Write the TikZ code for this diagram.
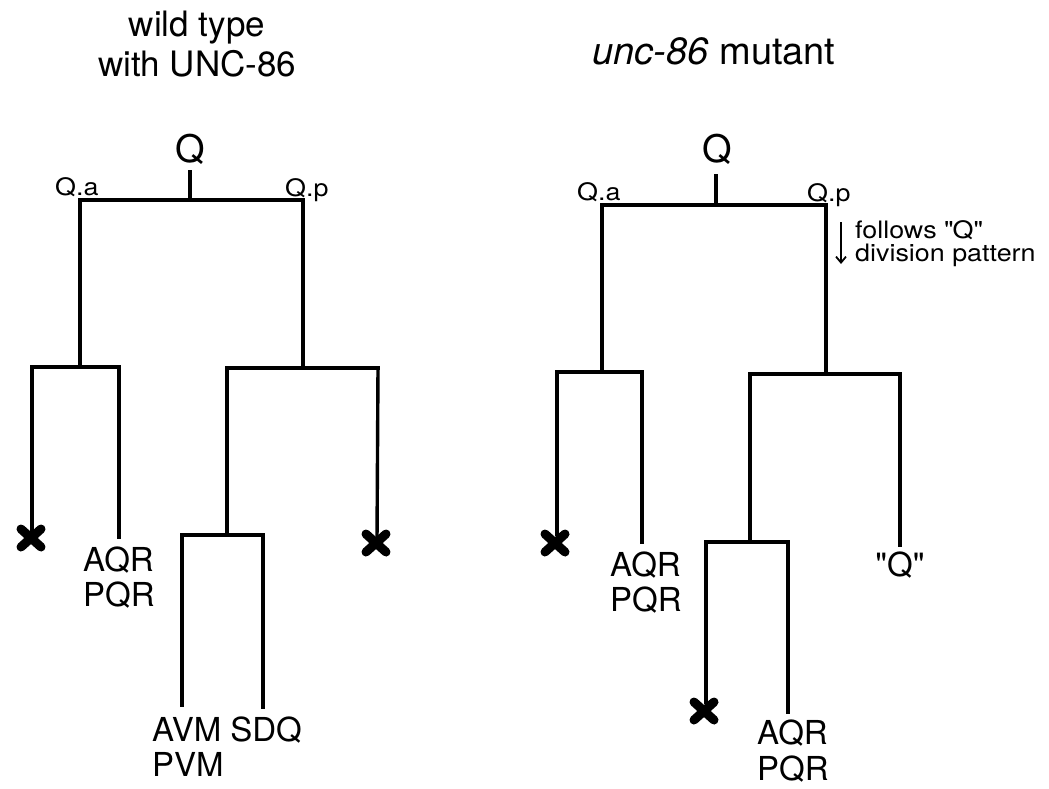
\documentclass[tikz,border=0pt]{standalone}
\usepackage{fontspec}
\setmainfont{TeX Gyre Heros}
\newfontfamily\widefont[FakeStretch=1.12]{TeX Gyre Heros}
\usetikzlibrary{arrows.meta}
\tikzset{
  branch/.style={line width=3.4pt, line cap=rect},
  bigtitle/.style={inner sep=0pt, align=center, font=\fontsize{35}{40}\selectfont},
  rootname/.style={inner sep=0pt, anchor=base, font=\fontsize{38}{40}\selectfont},
  smallname/.style={inner sep=0pt, anchor=base west, font=\widefont\fontsize{24}{26}\selectfont},
  cellname/.style={inner sep=0pt, anchor=base west, font=\fontsize{33}{38}\selectfont},
  death/.pic={\draw[line width=9pt, line cap=round] (-10,-9) -- (10,9) (-10,9) -- (10,-9);},
}
\begin{document}
\begin{tikzpicture}[x=1pt,y=-1pt]
\useasboundingbox (0,0) rectangle (1049,788);

% ---------------- Titles
\node[bigtitle] (titleL) at (197,44) {wild type\\with UNC-86};
\node[bigtitle, anchor=base, font=\fontsize{38}{40}\selectfont] (titleR) at (714,64) {\textit{unc-86} mutant};

% ================= LEFT TREE (wild type)
\node[rootname] (QL) at (190,162) {Q};
\node[smallname] (QaL) at (55,195) {Q.a};
\node[smallname] (QpL) at (285,196) {Q.p};
\coordinate (Ls) at (190,172);
\coordinate (Lr) at (190,200);
\coordinate (La) at (80,200);
\coordinate (Lp) at (303,200);
\coordinate (La2) at (80,367);
\coordinate (Lal) at (32,367);
\coordinate (Lar) at (119,367);
\coordinate (Lalend) at (32,534);
\coordinate (Larend) at (119,537);
\coordinate (Lp2) at (303,368);
\coordinate (Lpl) at (227,368);
\coordinate (Lpr) at (378,368);
\coordinate (Lpl2) at (227,535);
\coordinate (Lpll) at (182,535);
\coordinate (Lplr) at (263,535);
\coordinate (Lpllend) at (182,705);
\coordinate (Lplrend) at (263,707);
\coordinate (Lprend) at (377,540);

\draw[branch] (Ls) -- (Lr);
\draw[branch] (La) -- (Lp);
\draw[branch] (La) -- (La2);
\draw[branch] (Lp) -- (Lp2);
\draw[branch] (Lal) -- (Lar);
\draw[branch] (Lal) -- (Lalend);
\draw[branch] (Lar) -- (Larend);
\draw[branch] (Lpl) -- (Lpr);
\draw[branch] (Lpl) -- (Lpl2);
\draw[branch] (Lpll) -- (Lplr);
\draw[branch] (Lpll) -- (Lpllend);
\draw[branch] (Lplr) -- (Lplrend);
\draw[branch] (Lpr) -- (Lprend);

\pic at (31,538) {death};
\pic at (376,543) {death};

\node[cellname] (aqrL) at (83,571) {AQR};
\node[cellname] (pqrL) at (83,606) {PQR};
\node[cellname] (avmL) at (152,741) {AVM SDQ};
\node[cellname] (pvmL) at (152,776) {PVM};

% ================= RIGHT TREE (unc-86 mutant)
\node[rootname] (QR) at (717,162) {Q};
\node[smallname] (QaR) at (577,200) {Q.a};
\node[smallname] (QpR) at (807,201) {Q.p};
\coordinate (Rs) at (716,176);
\coordinate (Rr) at (716,205);
\coordinate (Ra) at (602,205);
\coordinate (Rp) at (826,205);
\coordinate (Ra2) at (602,372);
\coordinate (Ral) at (557,372);
\coordinate (Rar) at (642,372);
\coordinate (Ralend) at (557,534);
\coordinate (Rarend) at (642,542);
\coordinate (Rp2) at (826,374);
\coordinate (Rpl) at (750,374);
\coordinate (Rpr) at (900,374);
\coordinate (Rpl2) at (750,542);
\coordinate (Rpll) at (706,542);
\coordinate (Rplr) at (788,542);
\coordinate (Rpllend) at (706,702);
\coordinate (Rplrend) at (788,712);
\coordinate (Rprend) at (900,545);

\draw[branch] (Rs) -- (Rr);
\draw[branch] (Ra) -- (Rp);
\draw[branch] (Ra) -- (Ra2);
\draw[branch] (Rp) -- (Rp2);
\draw[branch] (Ral) -- (Rar);
\draw[branch] (Ral) -- (Ralend);
\draw[branch] (Rar) -- (Rarend);
\draw[branch] (Rpl) -- (Rpr);
\draw[branch] (Rpl) -- (Rpl2);
\draw[branch] (Rpll) -- (Rplr);
\draw[branch] (Rpll) -- (Rpllend);
\draw[branch] (Rplr) -- (Rplrend);
\draw[branch] (Rpr) -- (Rprend);

\pic at (555,543) {death};
\pic at (704,711) {death};

\node[cellname] (aqrR1) at (610,576) {AQR};
\node[cellname] (pqrR1) at (610,611) {PQR};
\node[cellname] (aqrR2) at (757,744) {AQR};
\node[cellname] (pqrR2) at (757,780) {PQR};
\node[cellname, anchor=base] (qq) at (900,576) {\textquotedbl Q\textquotedbl};

\coordinate (arTop) at (841,222);
\coordinate (arBot) at (841,264);
\draw[line width=1.8pt, -{Straight Barb[length=6pt,width=10pt]}] (arTop) -- (arBot);
\node[smallname] (fol1) at (855,238) {follows \textquotedbl Q\textquotedbl};
\node[smallname] (fol2) at (855,261) {division pattern};
\end{tikzpicture}
\end{document}
